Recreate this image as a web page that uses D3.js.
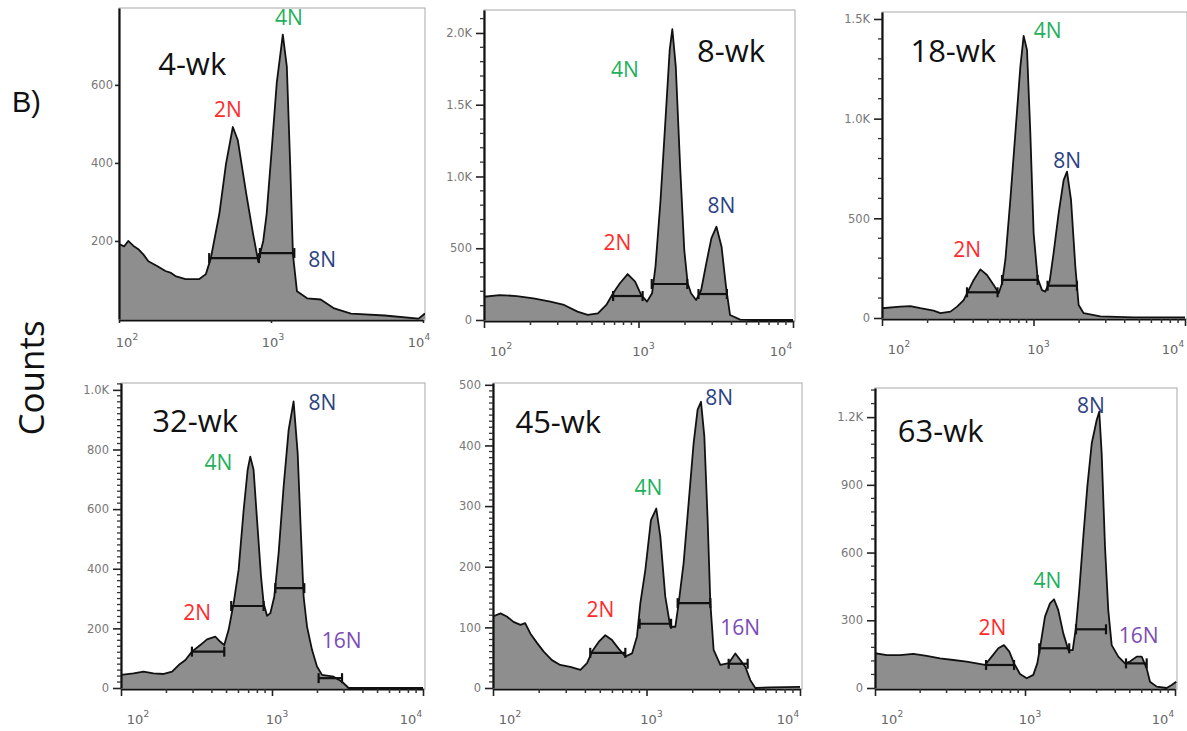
<!DOCTYPE html>
<html>
<head>
<meta charset="utf-8">
<title>Ploidy histograms</title>
<script src="https://d3js.org/d3.v7.min.js"></script>
<style>
  body { margin: 0; background: #fff; }
  text { font-family: "Open Sans", sans-serif; }
  .tick text { font-family: "DejaVu Sans", sans-serif; fill: #777; font-size: 11.5px; }
</style>
</head>
<body>
<svg id="chart" width="1187" height="731"></svg>
<script>
var panelNames = ['4-wk', '8-wk', '18-wk', '32-wk', '45-wk', '63-wk'];

// [DNA content, counts]
var hist4wk = [[100,192],[108,186],[115,200],[124,188],[134,179],[145,165],[156,148],[178,136],[202,123],[220,118],[235,110],[274,102],[336,102],[373,115],[402,156],[457,269],[506,398],[561,492],[605,458],[688,320],[762,218],[824,148],[889,200],[936,269],[1010,432],[1091,605],[1196,729],[1271,647],[1339,389],[1394,166],[1482,71],[1729,53],[2122,50],[2606,27],[3363,14],[5606,9],[9354,1],[10300,14]];
var hist8wk = [[100,162],[126,174],[163,167],[209,151],[269,128],[330,105],[403,58],[469,35],[546,46],[619,105],[685,186],[758,256],[851,320],[951,267],[1042,174],[1135,128],[1224,186],[1288,372],[1389,836],[1499,1417],[1592,1882],[1656,2026],[1743,1765],[1860,1068],[1978,488],[2080,256],[2188,186],[2360,139],[2545,209],[2746,395],[2962,569],[3196,650],[3448,511],[3684,232],[3912,35],[4550,3],[5539,0],[10000,0]];
var hist18wk = [[100,49],[132,57],[154,60],[179,49],[219,37],[243,24],[283,32],[313,57],[346,90],[373,140],[403,191],[446,244],[493,216],[546,166],[589,124],[620,174],[652,291],[703,592],[759,927],[819,1261],[861,1415],[906,1345],[953,927],[1002,425],[1065,199],[1138,140],[1197,132],[1277,182],[1357,325],[1465,525],[1581,692],[1664,734],[1769,592],[1889,257],[1986,65],[2143,24],[2761,8],[4581,3],[10000,3]];
var hist32wk = [[100,44],[121,49],[141,55],[164,49],[192,47],[218,55],[241,77],[267,94],[295,122],[335,144],[371,163],[421,172],[455,155],[483,144],[516,195],[557,284],[601,396],[649,597],[690,732],[718,776],[755,732],[796,564],[846,374],[880,284],[927,242],[975,251],[1035,306],[1106,452],[1194,676],[1289,866],[1390,961],[1479,788],[1557,508],[1620,306],[1706,206],[1841,128],[1986,72],[2143,44],[2559,38],[2909,21],[3215,0],[4256,0],[10000,0]];
var hist45wk = [[100,118],[112,123],[123,118],[136,109],[151,104],[162,107],[175,90],[194,74],[214,60],[242,46],[274,38],[319,35],[371,30],[410,41],[442,60],[488,76],[539,87],[596,79],[658,65],[728,52],[805,57],[867,85],[912,140],[983,195],[1069,277],[1158,296],[1230,250],[1325,151],[1429,101],[1541,101],[1620,140],[1745,206],[1881,305],[2028,404],[2153,459],[2265,472],[2381,415],[2502,277],[2606,140],[2737,63],[3026,38],[3430,41],[3790,57],[4085,46],[4403,35],[4746,13],[5116,0],[6406,1],[10000,2]];
var hist63wk = [[100,154],[120,146],[147,146],[180,151],[221,142],[271,131],[333,124],[408,117],[476,109],[541,102],[600,139],[664,176],[724,190],[786,161],[845,109],[926,62],[1026,43],[1136,58],[1208,109],[1273,198],[1359,316],[1468,375],[1561,393],[1667,345],[1800,242],[1945,168],[2080,168],[2188,271],[2301,434],[2448,670],[2603,892],[2786,1084],[3006,1187],[3127,1224],[3245,1039],[3415,626],[3590,345],[3784,190],[4188,139],[4642,109],[5012,117],[5555,139],[5997,139],[6475,87],[6813,28],[7551,6],[8804,0],[9504,13],[10200,28]];

// ploidy gates: [from, to, height]
var gates4wk = [[392,832,156],[845,1423,169]];
var gates8wk = [[685,1063,167],[1218,2069,251],[2445,3733,181]];
var gates18wk = [[364,579,129],[620,1065,191],[1239,1936,162]];
var gates32wk = [[295,483,122],[537,880,275],[1052,1636,335],[2036,2909,33]];
var gates45wk = [[430,728,58],[902,1446,106],[1596,2606,140],[3430,4560,40]];
var gates63wk = [[550,845,102],[1245,1971,176],[2188,3467,260],[4713,6475,109]];

var yMax = [797, 2160, 1535, 1023, 503, 1329];
var yTicks = [[200,400,600],[0,500,1000,1500,2000],[0,500,1000,1500],[0,200,400,600,800,1000],[0,100,200,300,400,500],[0,300,600,900,1200]];
var yTickLabels = [['200','400','600'],['0','500','1.0K','1.5K','2.0K'],['0','500','1.0K','1.5K'],['0','200','400','600','800','1.0K'],['0','100','200','300','400','500'],['0','300','600','900','1.2K']];
var yMinorStep = [0, 100, 100, 20, 10, 60];
var xTickExps = [2, 3, 4];

// titles and peak names, placed in data units
var titleAt = [[181,626],[2393,1798],[154,1285],[161,859],[140,421],[142,1089]];
var peaks4wk = [['2N',521,518],['4N',1312,754],['8N',2168,133]];
var peaks8wk = [['4N',818,1693],['2N',731,488],['8N',3443,746]];
var peaks18wk = [['4N',1242,1405],['8N',1671,753],['2N',365,306]];
var peaks32wk = [['4N',441,732],['8N',2153,933],['2N',320,228],['16N',2897,134]];
var peaks45wk = [['8N',2979,467],['4N',1028,318],['2N',500,117],['16N',4083,87]];
var peaks63wk = [['8N',2754,1218],['4N',1413,443],['2N',607,235],['16N',5715,199]];

var hists = [hist4wk, hist8wk, hist18wk, hist32wk, hist45wk, hist63wk];
var gates = [gates4wk, gates8wk, gates18wk, gates32wk, gates45wk, gates63wk];
var peaks = [peaks4wk, peaks8wk, peaks18wk, peaks32wk, peaks45wk, peaks63wk];

// plot boxes: left, top, right, bottom (pixel)
var boxes = [[119,8,423,319],[484,10,793,320],[882,12,1185,318],[121,383,423,688],[493,383,800,688],[875,388,1175,688]];
var peakColor = {'2N': '#ff2b2b', '4N': '#22b05c', '8N': '#2c4282', '16N': '#7b4cb3'};

var svg = d3.select('#chart');

svg.append('text').attr('x', 12).attr('y', 112)
    .style('font-family', '"Liberation Sans", Arial, sans-serif').style('font-size', '29px').style('fill', '#111')
    .text('B)');
svg.append('text').attr('transform', 'translate(44,378) rotate(-90)')
    .attr('text-anchor', 'middle').style('font-size', '35px').style('fill', '#111')
    .text('Counts');

panelNames.forEach(function(name, i) {
    var b = boxes[i];
    var first = i == 0;
    var x = d3.scaleLog().domain([100, 10000]).range([b[0], b[2]]);
    var y = d3.scaleLinear().domain([0, yMax[i]]).range([b[3], b[1]]);
    var g = svg.append('g');

    g.append('clipPath').attr('id', 'clip' + i).append('rect')
        .attr('x', b[0]).attr('y', b[1]).attr('width', b[2] - b[0] + 2).attr('height', b[3] - b[1] + 1);

    g.append('rect').attr('x', b[0]).attr('y', b[1]).attr('width', b[2] - b[0] + 2).attr('height', b[3] - b[1] + 1)
        .style('fill', 'none').style('stroke', '#a8a8a8').style('stroke-width', 1);

    var area = d3.area().x(function(d) { return x(d[0]); }).y0(y(0)).y1(function(d) { return y(d[1]); });
    var line = d3.line().x(function(d) { return x(d[0]); }).y(function(d) { return y(d[1]); });
    var plot = g.append('g').attr('clip-path', 'url(#clip' + i + ')');
    plot.append('path').datum(hists[i]).attr('d', area).style('fill', '#8e8e8e');
    plot.append('path').datum(hists[i]).attr('d', line)
        .style('fill', 'none').style('stroke', '#111').style('stroke-width', 1.8).style('stroke-linejoin', 'round');

    var gate = g.selectAll('.gate').data(gates[i]).enter().append('g');
    gate.append('line')
        .attr('x1', function(d) { return x(d[0]); }).attr('x2', function(d) { return x(d[1]); })
        .attr('y1', function(d) { return y(d[2]); }).attr('y2', function(d) { return y(d[2]); });
    gate.append('line')
        .attr('x1', function(d) { return x(d[0]); }).attr('x2', function(d) { return x(d[0]); })
        .attr('y1', function(d) { return y(d[2]) - 5; }).attr('y2', function(d) { return y(d[2]) + 5; });
    gate.append('line')
        .attr('x1', function(d) { return x(d[1]); }).attr('x2', function(d) { return x(d[1]); })
        .attr('y1', function(d) { return y(d[2]) - 5; }).attr('y2', function(d) { return y(d[2]) + 5; });
    gate.selectAll('line').style('stroke', '#111').style('stroke-width', 2.2);

    // axes
    var yAxis = d3.axisLeft(y).tickValues(yTicks[i])
        .tickFormat(function(d, k) { return yTickLabels[i][k]; })
        .tickSize(first ? 4 : 8).tickPadding(first ? 2 : 4).tickSizeOuter(0);
    g.append('g').attr('transform', 'translate(' + b[0] + ',0)').call(yAxis);
    var xAxis = d3.axisBottom(x).tickValues(xTickExps.map(function(e) { return Math.pow(10, e); }))
        .tickFormat('').tickSize(first ? 3 : 7).tickSizeOuter(0);
    g.append('g').attr('transform', 'translate(0,' + (b[3] + 1) + ')').call(xAxis);
    g.selectAll('.domain').style('stroke', '#111').style('stroke-width', 2.2);
    g.selectAll('.tick line').style('stroke', '#222').style('stroke-width', 1.6);

    // minor ticks
    if (!first) {
        var minor = d3.range(0, yMax[i], yMinorStep[i]).filter(function(v) { return yTicks[i].indexOf(v) < 0; });
        g.append('g').selectAll('line').data(minor).enter().append('line')
            .attr('x1', b[0] - 4).attr('x2', b[0])
            .attr('y1', function(d) { return y(d); }).attr('y2', function(d) { return y(d); })
            .style('stroke', '#333').style('stroke-width', 1.3);
        var xminor = [];
        [100, 1000].forEach(function(dec) { d3.range(2, 10).forEach(function(m) { xminor.push(m * dec); }); });
        g.append('g').selectAll('line').data(xminor).enter().append('line')
            .attr('x1', function(d) { return x(d); }).attr('x2', function(d) { return x(d); })
            .attr('y1', b[3] + 1).attr('y2', b[3] + 5)
            .style('stroke', '#333').style('stroke-width', 1.5);
    }

    // decade labels, end labels pulled inside the box
    var shift = first ? [5, -1, -7] : [14, 2, -15];
    var labY = b[3] + (first ? 28 : 36);
    xTickExps.forEach(function(e, k) {
        var cx = x(Math.pow(10, e)) + shift[k];
        g.append('text').attr('x', cx).attr('y', labY).attr('text-anchor', 'middle')
            .style('font-family', '"DejaVu Sans", sans-serif').style('font-size', '13px').style('fill', '#666')
            .text('10');
        g.append('text').attr('x', cx + 8.5).attr('y', labY - 7)
            .style('font-family', '"DejaVu Sans", sans-serif').style('font-size', '9px').style('fill', '#666')
            .text(e);
    });

    g.append('text').attr('x', x(titleAt[i][0])).attr('y', y(titleAt[i][1]))
        .style('font-size', '31px').style('fill', '#111').text(name);

    g.selectAll('.peak').data(peaks[i]).enter().append('text')
        .attr('x', function(d) { return x(d[1]); }).attr('y', function(d) { return y(d[2]); })
        .attr('text-anchor', 'middle').style('font-size', '21px')
        .style('fill', function(d) { return peakColor[d[0]]; })
        .text(function(d) { return d[0]; });
});
</script>
</body>
</html>
